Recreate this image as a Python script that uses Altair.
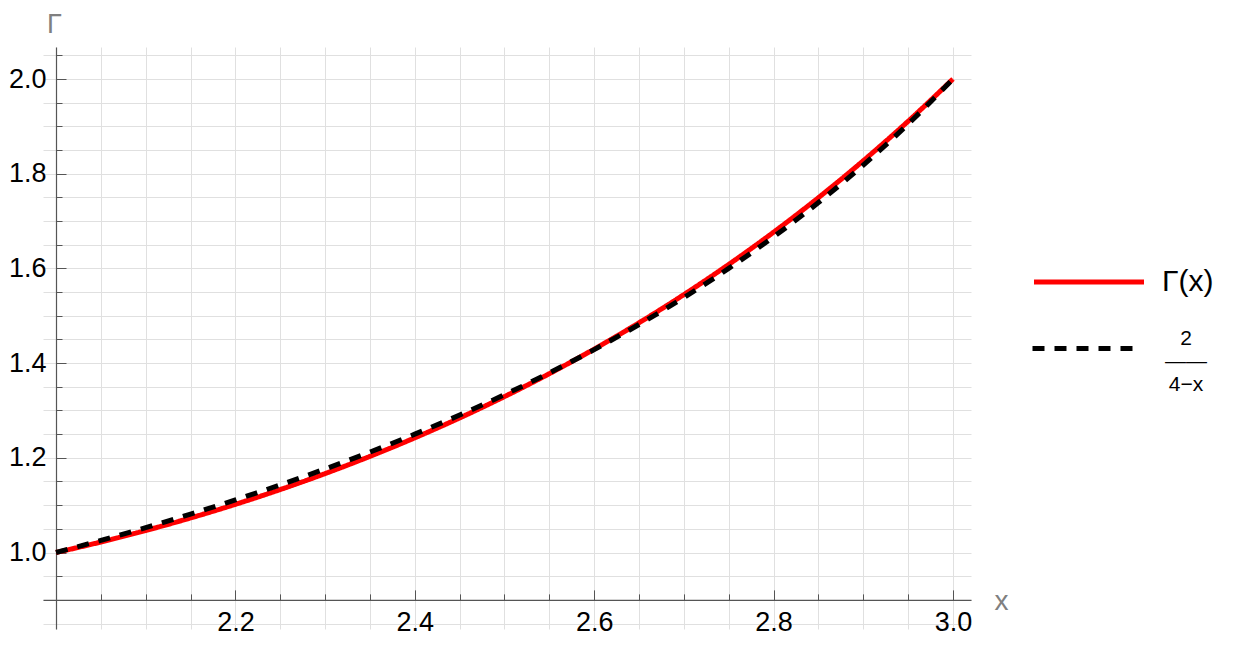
import altair as alt
import pandas as pd

# ---- data ----
x_vals = [2.00, 2.05, 2.10, 2.15, 2.20, 2.25, 2.30, 2.35, 2.40, 2.45, 2.50,
          2.55, 2.60, 2.65, 2.70, 2.75, 2.80, 2.85, 2.90, 2.95, 3.00]
gamma_vals = [1.0000, 1.0222, 1.0465, 1.0730, 1.1018, 1.1330, 1.1667, 1.2031, 1.2422, 1.2842, 1.3293,
              1.3777, 1.4296, 1.4852, 1.5447, 1.6084, 1.6765, 1.7494, 1.8274, 1.9108, 2.0000]
approx_vals = [1.0000, 1.0256, 1.0526, 1.0811, 1.1111, 1.1429, 1.1765, 1.2121, 1.2500, 1.2903, 1.3333,
               1.3793, 1.4286, 1.4815, 1.5385, 1.6000, 1.6667, 1.7391, 1.8182, 1.9048, 2.0000]
series_names = ["Γ(x)", "2/(4−x)"]
series_colors = ["#ff0000", "#000000"]
series_dashes = [[1, 0], [12, 10]]

x_grid = [2.00, 2.05, 2.10, 2.15, 2.20, 2.25, 2.30, 2.35, 2.40, 2.45, 2.50,
          2.55, 2.60, 2.65, 2.70, 2.75, 2.80, 2.85, 2.90, 2.95, 3.00]
y_grid = [0.85, 0.90, 0.95, 1.00, 1.05, 1.10, 1.15, 1.20, 1.25, 1.30, 1.35, 1.40, 1.45,
          1.50, 1.55, 1.60, 1.65, 1.70, 1.75, 1.80, 1.85, 1.90, 1.95, 2.00, 2.05]
x_labels = [2.2, 2.4, 2.6, 2.8, 3.0]
y_labels = [1.0, 1.2, 1.4, 1.6, 1.8, 2.0]
x_major = [2.0, 2.2, 2.4, 2.6, 2.8, 3.0]
y_major = [1.0, 1.2, 1.4, 1.6, 1.8, 2.0]
x_domain = [1.9855, 3.0201]
y_domain = [0.8385, 2.0676]
x_origin = 2.0
y_origin = 0.9

W, H = 928, 582
PAD_L, PAD_T = 35, 39
FONT = "Liberation Sans"
AX = "#555555"
GRID = "#e0e0e0"

df = pd.DataFrame(
    [{"x": xv, "y": yv, "series": series_names[0]} for xv, yv in zip(x_vals, gamma_vals)]
    + [{"x": xv, "y": yv, "series": series_names[1]} for xv, yv in zip(x_vals, approx_vals)]
)
df["series2"] = df["series"]

# axis positions (crossing at x=2, y=0.9)
y_axis_px = (x_origin - x_domain[0]) / (x_domain[1] - x_domain[0]) * W
x_axis_px = (y_domain[1] - y_origin) / (y_domain[1] - y_domain[0]) * H


def lbl_expr(vals):
    arr = ",".join(f"{v:.1f}" for v in vals)
    return f"indexof([{arr}], round(datum.value*100)/100) >= 0 ? format(datum.value, '.1f') : ''"


def major_test(vals):
    arr = ",".join(f"{v:.1f}" for v in vals)
    return f"indexof([{arr}], round(datum.value*100)/100) >= 0"


xs = alt.Scale(domain=x_domain, nice=False, zero=False)
ys = alt.Scale(domain=y_domain, nice=False, zero=False)

# legend placement (page pixels -> plot coordinates)
LEG_X = 1074 - 8 - PAD_L
color = alt.Color(
    "series:N",
    scale=alt.Scale(domain=series_names, range=series_colors),
    legend=alt.Legend(
        title=None, orient="none", legendX=LEG_X, legendY=288 - 8 - PAD_T - 21,
        values=[series_names[0]],
        symbolType="M-5,0H5", symbolSize=484, symbolStrokeWidth=5,
        labelFont=FONT, labelFontSize=30, labelColor="#000000", labelOffset=58,
    ),
)
dash = alt.StrokeDash(
    "series2:N",
    scale=alt.Scale(domain=series_names[::-1], range=series_dashes[::-1]),
    legend=alt.Legend(
        title=None, orient="none", legendX=LEG_X, legendY=356 - 8 - PAD_T - 21,
        values=[series_names[1]],
        symbolType="M-5,0H5", symbolSize=484, symbolStrokeWidth=5,
        symbolStrokeColor="#000000",
        labelFont=FONT, labelFontSize=21, labelColor="#000000", labelOffset=85,
        labelAlign="center", labelBaseline="bottom",
        labelExpr="['2', '——', '4−x']",
    ),
)

# main layer: labels, grid, axis lines
axis_x_main = alt.Axis(
    orient="bottom", offset=-(H - x_axis_px), values=x_grid, grid=True, gridColor=GRID,
    gridWidth=1, ticks=False, domain=True, domainColor=AX, domainWidth=1.2,
    labelExpr=lbl_expr(x_labels), labelFont=FONT, labelFontSize=27, labelColor="#000000",
    labelPadding=10, labelFlush=False, labelOverlap=False,
    title="x", titleFont=FONT, titleFontSize=28, titleFontWeight="normal", titleColor="#808080",
    titleX=958, titleY=10, titleAlign="center", titleBaseline="alphabetic", titleAngle=0,
)
axis_y_main = alt.Axis(
    orient="left", offset=-y_axis_px, values=y_grid, grid=True, gridColor=GRID,
    gridWidth=1, ticks=False, domain=True, domainColor=AX, domainWidth=1.2,
    labelExpr=lbl_expr(y_labels), labelFont=FONT, labelFontSize=27, labelColor="#000000",
    labelPadding=10, labelFlush=False, labelOverlap=False,
    title="Γ", titleFont=FONT, titleFontSize=27, titleFontWeight="normal", titleColor="#808080",
    titleX=-2, titleY=-23, titleAlign="center", titleBaseline="middle", titleAngle=0,
)

# tick layer: inward ticks
axis_x_ticks = alt.Axis(
    orient="top", offset=-x_axis_px, values=x_grid, grid=False, domain=False, labels=False,
    ticks=True, tickColor=AX, tickWidth=1,
    tickSize={"condition": {"test": major_test(x_major), "value": 10}, "value": 6},
    title=None,
)
axis_y_ticks = alt.Axis(
    orient="right", offset=-(W - y_axis_px), values=y_grid[1:], grid=False, domain=False,
    labels=False, ticks=True, tickColor=AX, tickWidth=1,
    tickSize={"condition": {"test": major_test(y_major), "value": 10}, "value": 6},
    title=None,
)

red = alt.Chart(df).transform_filter(
    alt.datum.series == series_names[0]
).mark_line(strokeWidth=5, interpolate="monotone").encode(
    x=alt.X("x:Q", scale=xs, axis=axis_x_main),
    y=alt.Y("y:Q", scale=ys, axis=axis_y_main),
    color=color,
    strokeDash=dash,
)

black = alt.Chart(df).transform_filter(
    alt.datum.series == series_names[1]
).mark_line(strokeWidth=5, interpolate="monotone").encode(
    x=alt.X("x:Q", scale=xs, axis=axis_x_ticks),
    y=alt.Y("y:Q", scale=ys, axis=axis_y_ticks),
    color=color,
    strokeDash=dash,
)

chart = alt.layer(red, black).resolve_axis(x="independent", y="independent").properties(
    width=W, height=H,
    autosize=alt.AutoSizeParams(type="none"),
    padding={"left": PAD_L, "top": PAD_T, "right": 1234 - 16 - PAD_L - W, "bottom": 645 - 16 - PAD_T - H},
).configure_view(strokeWidth=0)

chart.save("out.html", embed_options={"renderer": "svg", "actions": False})
